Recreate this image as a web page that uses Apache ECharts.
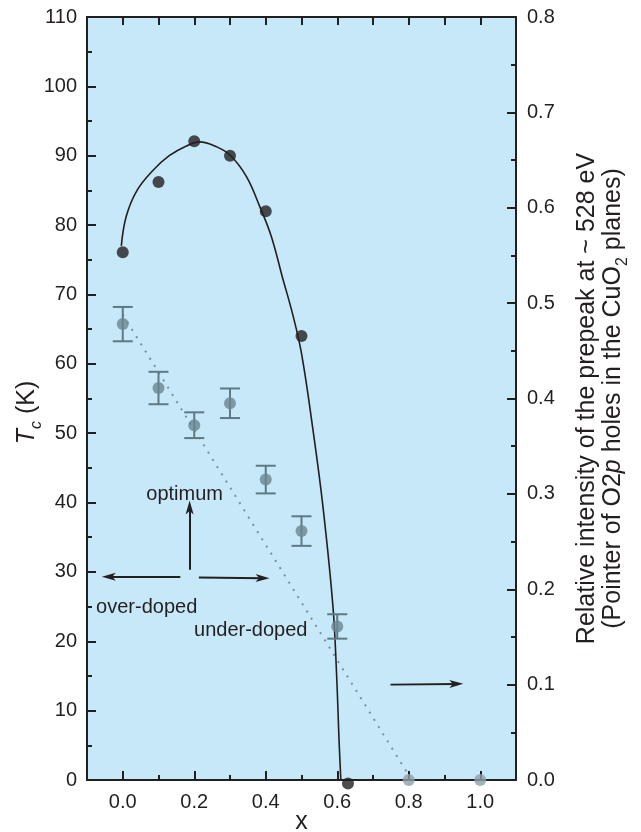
<!DOCTYPE html>
<html>
<head>
<meta charset="utf-8">
<script src="https://cdn.jsdelivr.net/npm/echarts@6/dist/echarts.min.js"></script>
<style>
  html, body { margin: 0; padding: 0; background: #ffffff; }
  #chart { width: 641px; height: 832px; }
</style>
</head>
<body>
<div id="chart"></div>
<script>
// Critical temperature versus doping x (left axis, K)
const tcX = [0.0, 0.1, 0.2, 0.3, 0.4, 0.5, 0.63];
const tcK = [76.1, 86.2, 92.1, 90.0, 82.0, 64.0, -0.5];

// Hand-drawn dome through the Tc points
const domeX = [-0.004, 0.01, 0.04, 0.085, 0.13, 0.178, 0.215, 0.262, 0.30, 0.346, 0.383, 0.416, 0.446, 0.475, 0.50, 0.532, 0.560, 0.588, 0.598, 0.605, 0.61];
const domeK = [77.0, 81.3, 85.0, 87.9, 90.0, 91.4, 92.0, 91.3, 90.1, 87.0, 82.7, 78.3, 72.6, 67.2, 61.5, 50.5, 39.4, 25.0, 15.4, 5.8, 0.0];

// Prepeak intensity (right axis) with error bars
const peakX = [0.0, 0.1, 0.2, 0.3, 0.4, 0.5, 0.6, 0.8, 1.0];
const peakI = [0.478, 0.411, 0.372, 0.395, 0.315, 0.261, 0.161, 0.0, 0.0];
const peakErr = [0.018, 0.017, 0.0135, 0.0155, 0.0145, 0.0155, 0.0128, 0, 0];

// Linear trend of the prepeak intensity
const trendX = [0.0, 0.795];
const trendI = [0.488, 0.008];

// Axis ticks
const xMajor = [0.0, 0.2, 0.4, 0.6, 0.8, 1.0];
const xMinor = [0.1, 0.3, 0.5, 0.7, 0.9];
const xTop = [0.0, 0.1, 0.2, 0.3, 0.4, 0.5, 0.6, 0.7, 0.8, 0.9, 1.0];

// Annotations (Tc axis units)
const noteText = ['optimum', 'over-doped', 'under-doped'];
const noteX = [0.173, 0.067, 0.358];
const noteK = [41.1, 24.8, 21.5];
const arrowFrom = [[0.187, 30.3], [0.161, 29.3], [0.213, 29.2], [0.749, 13.75]];
const arrowTo = [[0.187, 39.3], [-0.039, 29.3], [0.391, 29.1], [0.933, 13.85]];

const ink = '#231f20';
const font = 'Liberation Sans, Arial, sans-serif';

const chart = echarts.init(document.getElementById('chart'), null, { renderer: 'canvas' });

const baseX = {
  type: 'value', min: -0.1, max: 1.1,
  splitLine: { show: false }
};

const option = {
  animation: false,
  textStyle: { fontFamily: font, color: ink },
  grid: {
    left: 87, right: 125, top: 17, bottom: 52,
    containLabel: false, outerBoundsMode: 'none',
    show: true, backgroundColor: '#c6e8f8', borderWidth: 0
  },
  xAxis: [
    Object.assign({}, baseX, {
      position: 'bottom',
      axisLine: { show: true, onZero: false, lineStyle: { color: ink, width: 2 } },
      axisTick: { show: true, inside: true, length: 9, customValues: xMajor, lineStyle: { color: ink, width: 2 } },
      axisLabel: { show: true, customValues: xMajor, fontSize: 20, color: ink, fontFamily: font, margin: 12,
        formatter: v => v.toFixed(1) },
      name: 'x', nameLocation: 'middle', nameGap: 30, nameMoveOverlap: false,
      nameTextStyle: { fontSize: 25, color: ink, fontFamily: font }
    }),
    Object.assign({}, baseX, {
      position: 'bottom',
      axisLine: { show: false, onZero: false },
      axisTick: { show: true, inside: true, length: 5, customValues: xMinor, lineStyle: { color: ink, width: 2 } },
      axisLabel: { show: false }
    }),
    Object.assign({}, baseX, {
      position: 'top',
      axisLine: { show: true, onZero: false, lineStyle: { color: ink, width: 2 } },
      axisTick: { show: true, inside: true, length: 8, customValues: xTop, lineStyle: { color: ink, width: 2 } },
      axisLabel: { show: false }
    })
  ],
  yAxis: [
    {
      type: 'value', min: 0, max: 110, interval: 10, position: 'left',
      splitLine: { show: false },
      axisLine: { show: true, onZero: false, lineStyle: { color: ink, width: 2 } },
      axisTick: { show: true, inside: true, length: 9, lineStyle: { color: ink, width: 2 } },
      minorTick: { show: true, splitNumber: 2, length: 5, lineStyle: { color: ink, width: 2 } },
      axisLabel: { fontSize: 20, color: ink, fontFamily: font, margin: 10 },
      name: '{i|T}{s|c} (K)', nameLocation: 'middle', nameGap: 47, nameRotate: 90, nameMoveOverlap: false,
      nameTextStyle: {
        fontSize: 25, color: ink, fontFamily: font, padding: [0, 28, 0, 0],
        rich: {
          i: { fontSize: 25, fontStyle: 'italic', fontFamily: font, color: ink },
          s: { fontSize: 16, fontStyle: 'italic', fontFamily: font, color: ink, verticalAlign: 'bottom', padding: [0, 0, -5, 0] }
        }
      }
    },
    {
      type: 'value', min: 0, max: 0.8, interval: 0.1, position: 'right',
      splitLine: { show: false },
      axisLine: { show: true, onZero: false, lineStyle: { color: ink, width: 2 } },
      axisTick: { show: true, inside: true, length: 9, lineStyle: { color: ink, width: 2 } },
      minorTick: { show: true, splitNumber: 2, length: 5, lineStyle: { color: ink, width: 2 } },
      axisLabel: { fontSize: 20, color: ink, fontFamily: font, margin: 11, formatter: v => v.toFixed(1) },
      name: 'Relative intensity of the prepeak at ~ 528 eV\n(Pointer of O2{i|p} holes in the CuO{s|2} planes)',
      nameLocation: 'middle', nameGap: 58, nameRotate: 90, nameMoveOverlap: false,
      nameTextStyle: {
        fontSize: 25, lineHeight: 26, color: ink, fontFamily: font, align: 'center',
        rich: {
          i: { fontSize: 25, fontStyle: 'italic', fontFamily: font, color: ink },
          s: { fontSize: 16, fontFamily: font, color: ink, verticalAlign: 'bottom', padding: [0, 0, -5, 0] }
        }
      }
    }
  ],
  series: [
    {
      name: 'Tc dome', type: 'line', xAxisIndex: 0, yAxisIndex: 0,
      data: domeX.map((x, i) => [x, domeK[i]]),
      smooth: 0.4, showSymbol: false, silent: true, clip: false,
      lineStyle: { color: ink, width: 1.6 }, z: 3
    },
    {
      name: 'prepeak trend', type: 'line', xAxisIndex: 0, yAxisIndex: 1,
      data: trendX.map((x, i) => [x, trendI[i]]),
      showSymbol: false, silent: true,
      lineStyle: { color: '#7890a0', width: 2, type: [2, 6.5] }, z: 2
    },
    {
      name: 'prepeak error', type: 'custom', xAxisIndex: 0, yAxisIndex: 1,
      data: peakX.map((x, i) => [x, peakI[i] - peakErr[i], peakI[i] + peakErr[i]]).filter((d, i) => peakErr[i] > 0),
      renderItem: (params, api) => {
        const lo = api.coord([api.value(0), api.value(1)]);
        const hi = api.coord([api.value(0), api.value(2)]);
        const half = 10;
        const st = { stroke: '#5f7984', lineWidth: 2 };
        return {
          type: 'group',
          children: [
            { type: 'line', shape: { x1: lo[0], y1: lo[1], x2: hi[0], y2: hi[1] }, style: st },
            { type: 'line', shape: { x1: lo[0] - half, y1: lo[1], x2: lo[0] + half, y2: lo[1] }, style: st },
            { type: 'line', shape: { x1: hi[0] - half, y1: hi[1], x2: hi[0] + half, y2: hi[1] }, style: st }
          ]
        };
      },
      silent: true, z: 4
    },
    {
      name: 'prepeak', type: 'scatter', xAxisIndex: 0, yAxisIndex: 1,
      data: peakX.map((x, i) => ({
        value: [x, peakI[i]],
        itemStyle: { color: x > 0.7 ? '#8c9fa8' : '#6b8591' }
      })),
      symbolSize: 12, clip: false, silent: true, z: 5
    },
    {
      name: 'Tc', type: 'scatter', xAxisIndex: 0, yAxisIndex: 0,
      data: tcX.map((x, i) => [x, tcK[i]]),
      symbolSize: 12, clip: false, silent: true,
      itemStyle: { color: ink }, z: 6,
      markLine: {
        silent: true, animation: false,
        symbol: ['none', 'path://M5,0 L10,16 L5,12 L0,16 Z'],
        label: { show: false },
        lineStyle: { color: ink, width: 2, type: 'solid' },
        emphasis: { disabled: true },
        data: arrowFrom.map((p, i) => [
          { coord: p, symbol: 'none' },
          { coord: arrowTo[i], symbolSize: [8, 14] }
        ])
      },
      markPoint: {
        silent: true, animation: false,
        symbol: 'rect', symbolSize: 1,
        itemStyle: { color: 'rgba(0,0,0,0)' },
        label: { show: true, position: 'inside', formatter: '{b}', fontSize: 20, color: ink, fontFamily: font },
        data: noteText.map((t, i) => ({ name: t, coord: [noteX[i], noteK[i]] }))
      }
    }
  ]
};

chart.setOption(option);
</script>
</body>
</html>
